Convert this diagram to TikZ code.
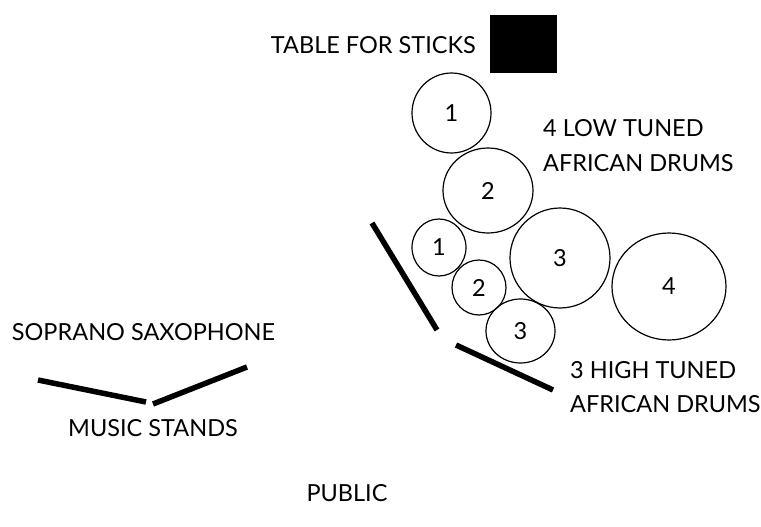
\documentclass[tikz,border=0pt]{standalone}
\usepackage{fontspec}
\setmainfont{Lato}
\usepackage{tikz}
\usetikzlibrary{shapes.geometric,positioning}

\begin{document}
\begin{tikzpicture}[x=1pt,y=-1pt,
  drum/.style={draw, ellipse, inner sep=0pt, line width=1.2pt},
  label/.style={font=\fontsize{23.5}{28}\selectfont, inner sep=0pt},
  stand/.style={line width=5.5pt}]
\useasboundingbox (0,0) rectangle (761,527);
% table
\fill (490,15) rectangle (557,73);
\node[label, anchor=east] (table) at (476,45) {TABLE FOR STICKS};
% low tuned drums
\node[drum, minimum width=79, minimum height=80, label] (low1) at (451.5,113) {1};
\node[drum, minimum width=90, minimum height=85, label] (low2) at (488,190.5) {2};
\node[drum, minimum width=100, minimum height=100, label] (low3) at (560,258) {3};
\node[drum, minimum width=114, minimum height=107, label] (low4) at (669,286.5) {4};
\node[label, anchor=west] (lowA) at (543,128) {4 LOW TUNED};
\node[label, anchor=west] (lowB) at (543,163) {AFRICAN DRUMS};
% high tuned drums
\node[drum, minimum width=54, minimum height=57, label] (high1) at (439,247.5) {1};
\node[drum, minimum width=54, minimum height=55, label] (high2) at (479,287.5) {2};
\node[drum, minimum width=69, minimum height=64, label] (high3) at (520.5,331) {3};
\node[label, anchor=west] (highA) at (570,370) {3 HIGH TUNED};
\node[label, anchor=west] (highB) at (570,404) {AFRICAN DRUMS};
% screens
\coordinate (s1) at (372,223);
\coordinate (s2) at (437,330);
\coordinate (s3) at (456,345);
\coordinate (s4) at (553,390);
\draw[stand] (s1) -- (s2);
\draw[stand] (s3) -- (s4);
% saxophone
\node[label] (sax) at (143.5,332) {SOPRANO SAXOPHONE};
\coordinate (m1) at (38,380);
\coordinate (m2) at (146,402);
\coordinate (m3) at (153,404);
\coordinate (m4) at (247,367);
\draw[stand] (m1) -- (m2);
\draw[stand] (m3) -- (m4);
\node[label] (stands) at (153,428) {MUSIC STANDS};
\node[label] (public) at (347,493) {PUBLIC};
\end{tikzpicture}
\end{document}
